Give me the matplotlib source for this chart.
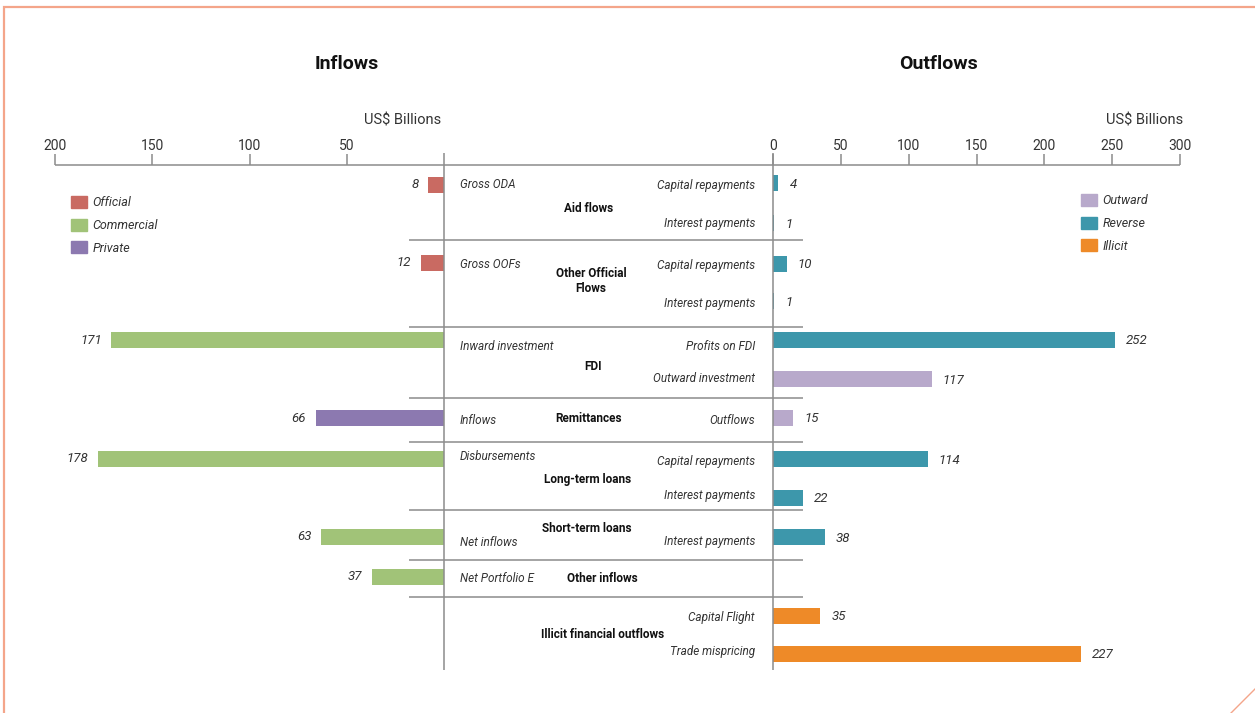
import matplotlib.pyplot as plt
from matplotlib.patches import Patch

# data
in_labels = ["Gross ODA", "Gross OOFs", "Inward investment", "Inflows",
             "Disbursements", "Net inflows", "Net Portfolio E"]
in_values = [8, 12, 171, 66, 178, 63, 37]
in_types = ["Official", "Official", "Commercial", "Private",
            "Commercial", "Commercial", "Commercial"]

out_labels = ["Capital repayments", "Interest payments", "Capital repayments",
              "Interest payments", "Profits on FDI", "Outward investment",
              "Outflows", "Capital repayments", "Interest payments",
              "Interest payments", "Capital Flight", "Trade mispricing"]
out_values = [4, 1, 10, 1, 252, 117, 15, 114, 22, 38, 35, 227]
out_types = ["Reverse", "Reverse", "Reverse", "Reverse", "Reverse", "Outward",
             "Outward", "Reverse", "Reverse", "Reverse", "Illicit", "Illicit"]

groups = ["Aid flows", "Other Official\nFlows", "FDI", "Remittances",
          "Long-term loans", "Short-term loans", "Other inflows",
          "Illicit financial outflows"]

in_ticks = [200, 150, 100, 50]
out_ticks = [0, 50, 100, 150, 200, 250, 300]

colors = {"Official": "#c96a62", "Commercial": "#a1c378", "Private": "#8c79b0",
          "Outward": "#b8a9cb", "Reverse": "#3d97ab", "Illicit": "#ee8a28"}

# layout (pixel rows)
W, H = 1255, 713
in_y = [185, 263, 340, 418, 459, 537, 577]
out_y = [183, 223, 264, 301, 340, 379, 418, 459, 498, 537, 616, 654]
in_text_y = [185, 264, 346, 420, 457, 542, 578]
out_text_y = [185, 223, 265, 304, 346, 379, 420, 462, 496, 542, 618, 652]
group_y = [208, 281, 367, 419, 479, 529, 578, 634]
group_x = [589, 591, 593, 589, 588, 587, 602, 603]
sep_y = [240, 327, 398, 442, 510, 560, 597]

line_c = "#8c8c8c"
text_c = "#333333"

plt.rcParams['font.family'] = ['Roboto', 'DejaVu Sans']
fig = plt.figure(figsize=(W / 100, H / 100), dpi=100)

bg = fig.add_axes([0, 0, 1, 1])
bg.set_xlim(0, W)
bg.set_ylim(H, 0)
bg.axis('off')


def px_axes(x0, x1, y0, y1):
    return fig.add_axes([x0 / W, 1 - y1 / H, (x1 - x0) / W, (y1 - y0) / H])


axl = px_axes(55, 444, 165, 713)
axl.set_xlim(200, 0)
axr = px_axes(773, 1180, 165, 713)
axr.set_xlim(0, 300)

for ax, ticks in [(axl, in_ticks), (axr, out_ticks)]:
    ax.set_ylim(713, 165)
    ax.patch.set_visible(False)
    for s in ax.spines.values():
        s.set_visible(False)
    ax.set_yticks([])
    ax.set_xticks(ticks)
    ax.xaxis.set_ticks_position('top')
    ax.tick_params(axis='x', top=True, bottom=False, labeltop=True,
                   labelbottom=False, direction='out', length=8, width=1.1,
                   color=line_c, labelsize=10, labelcolor=text_c, pad=0.5)
    ax.vlines(0, 153, 670, colors=line_c, lw=1.1, clip_on=False)

# bars
axl.barh(in_y, in_values, height=16, color=[colors[t] for t in in_types])
axr.barh(out_y, out_values, height=16, color=[colors[t] for t in out_types])

for v, y in zip(in_values, in_y):
    axl.annotate(str(v), (v, y), xytext=(-7, 0), textcoords='offset points',
                 ha='right', va='center', fontsize=9.5, style='italic',
                 color=text_c)
for v, y in zip(out_values, out_y):
    axr.annotate(str(v), (v, y + 1), xytext=(8, 0), textcoords='offset points',
                 ha='left', va='center', fontsize=9.5, style='italic',
                 color=text_c)

# axis line and separators
bg.hlines(165, 55, 1180, colors=line_c, lw=1.1)
bg.hlines(sep_y, 409, 803, colors=line_c, lw=1.1)

# middle text
for lab, y in zip(in_labels, in_text_y):
    bg.text(460, y, lab, ha='left', va='center', fontsize=8.5,
            style='italic', color=text_c)
for lab, y in zip(out_labels, out_text_y):
    bg.text(755, y, lab, ha='right', va='center', fontsize=8.5,
            style='italic', color=text_c)
for lab, x, y in zip(groups, group_x, group_y):
    bg.text(x, y, lab, ha='center', va='center', fontsize=8.5,
            fontweight='bold', color='#111111', linespacing=1.2)

# titles
bg.text(347, 64, "Inflows", ha='center', va='center', fontsize=14,
        fontweight='bold', color='#111111')
bg.text(939, 64, "Outflows", ha='center', va='center', fontsize=14,
        fontweight='bold', color='#111111')
bg.text(441, 121, "US$ Billions", ha='right', va='center', fontsize=10.5,
        color=text_c)
bg.text(1183, 121, "US$ Billions", ha='right', va='center', fontsize=10.5,
        color=text_c)

# legends
leg_kw = dict(loc='upper left', frameon=False, borderpad=0, borderaxespad=0,
              handlelength=1.3, handleheight=1.1, handletextpad=0.4,
              labelspacing=0.75, prop={'size': 9, 'style': 'italic'},
              labelcolor=text_c)
in_keys = ["Official", "Commercial", "Private"]
out_keys = ["Outward", "Reverse", "Illicit"]
fig.legend([Patch(color=colors[k]) for k in in_keys], in_keys,
           bbox_to_anchor=(71 / W, 1 - 196 / H), **leg_kw)
fig.legend([Patch(color=colors[k]) for k in out_keys], out_keys,
           bbox_to_anchor=(1081 / W, 1 - 194 / H), **leg_kw)

# frame decoration
border_c = "#f4a58a"
bg.plot([4, 4, W], [H, 7, 7], color=border_c, lw=1.6, solid_joinstyle='miter')
bg.plot([1231, W], [H, 689], color=border_c, lw=1)

fig.savefig("out.png", dpi=100)
